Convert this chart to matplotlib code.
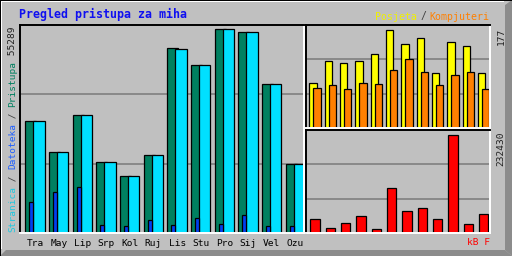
import numpy as np
import matplotlib
matplotlib.use('Agg')
import matplotlib.pyplot as plt
from matplotlib.patches import Rectangle, Polygon

W, H = 512, 256
DPI = 100

# monthly data
months = ['Tra', 'May', 'Lip', 'Srp', 'Kol', 'Ruj', 'Lis', 'Stu', 'Pro', 'Sij', 'Vel', 'Ozu']
pristupa = [30400, 21900, 31950, 19190, 15390, 21090, 50130, 45600, 55289, 54475, 40360, 18650]
stranica = [30400, 21900, 31950, 19190, 15390, 21090, 49860, 45600, 55289, 54475, 40360, 18650]
datoteka = [8330, 11050, 12400, 2090, 1820, 3450, 2090, 3990, 2360, 4800, 1820, 1820]
posjeta = [81, 121, 117, 121, 134, 177, 152, 163, 99, 155, 148, 99]
kompjuteri = [72, 78, 70, 81, 79, 105, 125, 101, 78, 96, 101, 70]
kb = [33200, 11860, 23720, 40320, 9490, 106730, 52180, 59290, 33200, 232430, 21350, 45060]

BG = '#c0c0c0'
MONO = 'DejaVu Sans Mono'
FS = 6.8
ADV = 0.602 * FS * DPI / 72.0   # pixel advance of one mono char

fig = plt.figure(figsize=(W / DPI, H / DPI), dpi=DPI, facecolor=BG)

# bevelled frame
frame = fig.add_axes([0, 0, 1, 1])
frame.set_xlim(0, W)
frame.set_ylim(H, 0)
frame.axis('off')
frame.add_patch(Polygon([(0, H), (W, H), (W - 7, H - 6), (6, H - 6)], color='#8c8c8c', lw=0))
frame.add_patch(Polygon([(W, 0), (W, H), (W - 7, H - 6), (W - 7, 5)], color='#8c8c8c', lw=0))
frame.add_patch(Rectangle((0, 0), W, 1.2, color='black', lw=0))
frame.add_patch(Rectangle((0, 0), 1.2, H, color='black', lw=0))
frame.add_patch(Rectangle((1.2, 1.2), W - 9, 1, color='white', lw=0))
frame.add_patch(Rectangle((1.2, 1.2), 1, H - 8, color='white', lw=0))


def px_axes(x0, y0, x1, y1):
    ax = fig.add_axes([x0 / W, 1 - y1 / H, (x1 - x0) / W, (y1 - y0) / H])
    ax.set_facecolor(BG)
    ax.set_xticks([])
    ax.set_yticks([])
    for s in ['top', 'left']:
        ax.spines[s].set_color('black')
        ax.spines[s].set_linewidth(1.4)
    for s in ['bottom', 'right']:
        ax.spines[s].set_color('white')
        ax.spines[s].set_linewidth(1.4)
    ax.set_xlim(0, 12)
    return ax


def grid(ax, top):
    ax.set_ylim(0, top)
    for k in (1, 2):
        ax.axhline(top * k / 3, color='#808080', lw=1.2, zorder=0)


idx = np.arange(len(months))
ek = dict(edgecolor='black', linewidth=0.9, align='edge')

# left panel: hits / files / pages
ax1 = px_axes(20, 25, 304, 233)
grid(ax1, 55289 * 208 / 203.7)
ax1.bar(idx + 0.225, pristupa, width=0.47, color='#008060', **ek)
ax1.bar(idx + 0.56, stranica, width=0.48, color='#00e0ff', **ek)
ax1.bar(idx + 0.39, datoteka, width=0.17, color='#0040f0', **ek)
ax1.set_xticks(idx + 0.64, months, fontsize=FS, family=MONO)
ax1.tick_params(axis='x', length=0, pad=4.5)

# top right: visits / unique
ax2 = px_axes(306, 25, 490, 128)
grid(ax2, 177 * 103 / 98)
ax2.bar(idx + 0.215, posjeta, width=0.48, color='#ffff00', **ek)
ax2.bar(idx + 0.48, kompjuteri, width=0.48, color='#ff8000', **ek)

# bottom right: bandwidth
ax3 = px_axes(306, 130, 490, 233)
grid(ax3, 232430 * 103 / 98)
ax3.bar(idx + 0.28, kb, width=0.61, color='#ff0000', **ek)


def ptxt(x, y, s, fs=FS, **kw):
    fig.text(x / W, 1 - y / H, s, family=MONO, fontsize=fs, **kw)


def vtxt(x, y, parts):
    for s, c in parts:
        ptxt(x, y, s, color=c, ha='left', va='center', rotation=90, rotation_mode='anchor')
        y -= len(s) * ADV


fig.text(19 / W, 1 - 14.5 / H, 'Pregled pristupa za miha', family=MONO, fontsize=8.4,
         fontweight='bold', color='#1010f0', ha='left', va='center')

ptxt(375.5, 16.5, 'Posjeta', fs=7.1, color='#f0f000', ha='left', va='center')
ptxt(423.5, 16.5, '/', fs=7.1, color='#404040', ha='center', va='center')
ptxt(489, 16.5, 'Kompjuteri', fs=7.1, color='#ff8000', ha='right', va='center')

vtxt(12.5, 232, [('Stranica', '#20c8e0'), (' / ', '#404040'), ('Datoteka', '#2060ff'),
                 (' / ', '#404040'), ('Pristupa', '#008060'), (' 55289', '#202020')])

ptxt(501, 28, '177', color='#202020', ha='right', va='center', rotation=90, rotation_mode='anchor')
ptxt(501, 132, '232430', color='#202020', ha='right', va='center', rotation=90, rotation_mode='anchor')
ptxt(490, 242.5, 'kB F', color='#ff0000', ha='right', va='center')

fig.savefig('out.png', dpi=DPI, facecolor=BG)
